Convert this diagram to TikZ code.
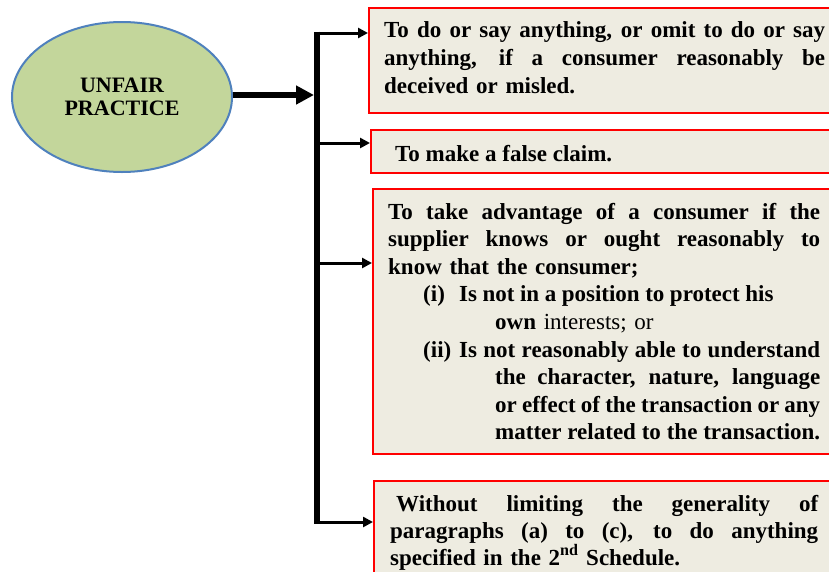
\documentclass[tikz,border=0pt]{standalone}
\usepackage{fontspec}
\setmainfont{Liberation Serif}
\usetikzlibrary{arrows.meta,shapes.geometric,calc}
\definecolor{boxfill}{HTML}{EEECE1}
\definecolor{ellfill}{HTML}{C3D69B}
\definecolor{ellline}{HTML}{4F81BD}
\definecolor{boxline}{HTML}{FF0000}
\newcommand{\jline}[2]{{\spaceskip=0.25em plus 1fil minus 0.15em\xspaceskip=0.25em plus 1fil minus 0.15em\makebox[#1][s]{#2}}}
\tikzset{
  box/.style={draw=boxline, line width=2pt, fill=boxfill, rectangle, inner sep=0pt, anchor=north west},
  txt/.style={inner sep=0pt, anchor=base west, font=\bfseries\fontsize{23}{28}\selectfont},
  trunk/.style={line width=6pt},
  bigarrow/.style={line width=6pt, -{Triangle[length=18pt,width=18pt]}},
  branch/.style={line width=3pt, -{Triangle[length=10pt,width=10pt]}},
}
\begin{document}
\begin{tikzpicture}[x=1pt,y=-1pt]
\clip (0,0) rectangle (829,571);
\fill[white] (0,0) rectangle (829,571);
% ellipse
\node[ellipse, draw=ellline, line width=2pt, fill=ellfill, minimum width=220pt, minimum height=150pt, inner sep=0pt, align=center, font=\bfseries\fontsize{22}{23}\selectfont] (up) at (122,97) {UNFAIR\\PRACTICE};
% boxes
\node[box, minimum width=480pt, minimum height=105pt] (b1) at (368,7) {};
\node[box, minimum width=480pt, minimum height=43pt] (b2) at (370,129) {};
\node[box, minimum width=480pt, minimum height=265pt] (b3) at (372,188) {};
\node[box, minimum width=480pt, minimum height=120pt] (b4) at (373,480) {};
% trunk
\coordinate (ttop) at (317,33);
\coordinate (tmid) at (314,95);
\coordinate (tbot) at (317,522);
\coordinate (t2) at (317,143);
\coordinate (t3) at (317,263);
\draw[trunk] ($(ttop)+(0,-1.5)$) -- ($(tbot)+(0,1.5)$);
\draw[bigarrow] (up.east |- tmid) -- (tmid);
\draw[branch] (ttop) -- (b1.west |- ttop);
\draw[branch] (t2) -- (b2.west |- t2);
\draw[branch] (t3) -- (b3.west |- t3);
\draw[branch] (tbot) -- (b4.west |- tbot);
% texts
\node[txt, text width=441pt] (x1) at (384,37) {%
\jline{441pt}{To do or say anything, or omit to do or say}\\
\jline{441pt}{anything, if a consumer reasonably be}\\
deceived or misled.};
\node[txt] (x2) at (395,161) {To make a false claim.};
\node[txt, text width=432pt, font=\bfseries\fontsize{23}{27.6}\selectfont] (x3) at (388,219) {%
\jline{432pt}{To take advantage of a consumer if the}\\
\jline{432pt}{supplier knows or ought reasonably to}\\
know that the consumer;\\
\hspace*{35pt}\makebox[36pt][l]{(i)}{\spaceskip=0.24em\relax Is not in a position to protect his}\\
\hspace*{107pt}own {\mdseries interests; or}\\
\hspace*{35pt}\makebox[36pt][l]{(ii)}\jline{361pt}{Is not reasonably able to understand}\\
\hspace*{107pt}\jline{325pt}{the character, nature, language}\\
\hspace*{107pt}\jline{325pt}{or effect of the transaction or any}\\
\hspace*{107pt}\jline{325pt}{matter related to the transaction.}};
\node[txt, text width=428pt, font=\bfseries\fontsize{23}{27}\selectfont] (x4) at (390,511) {%
\hspace*{6pt}\jline{422pt}{Without limiting the generality of}\\
\jline{428pt}{paragraphs (a) to (c), to do anything}\\
specified in the 2\textsuperscript{nd} Schedule.};
\end{tikzpicture}
\end{document}
